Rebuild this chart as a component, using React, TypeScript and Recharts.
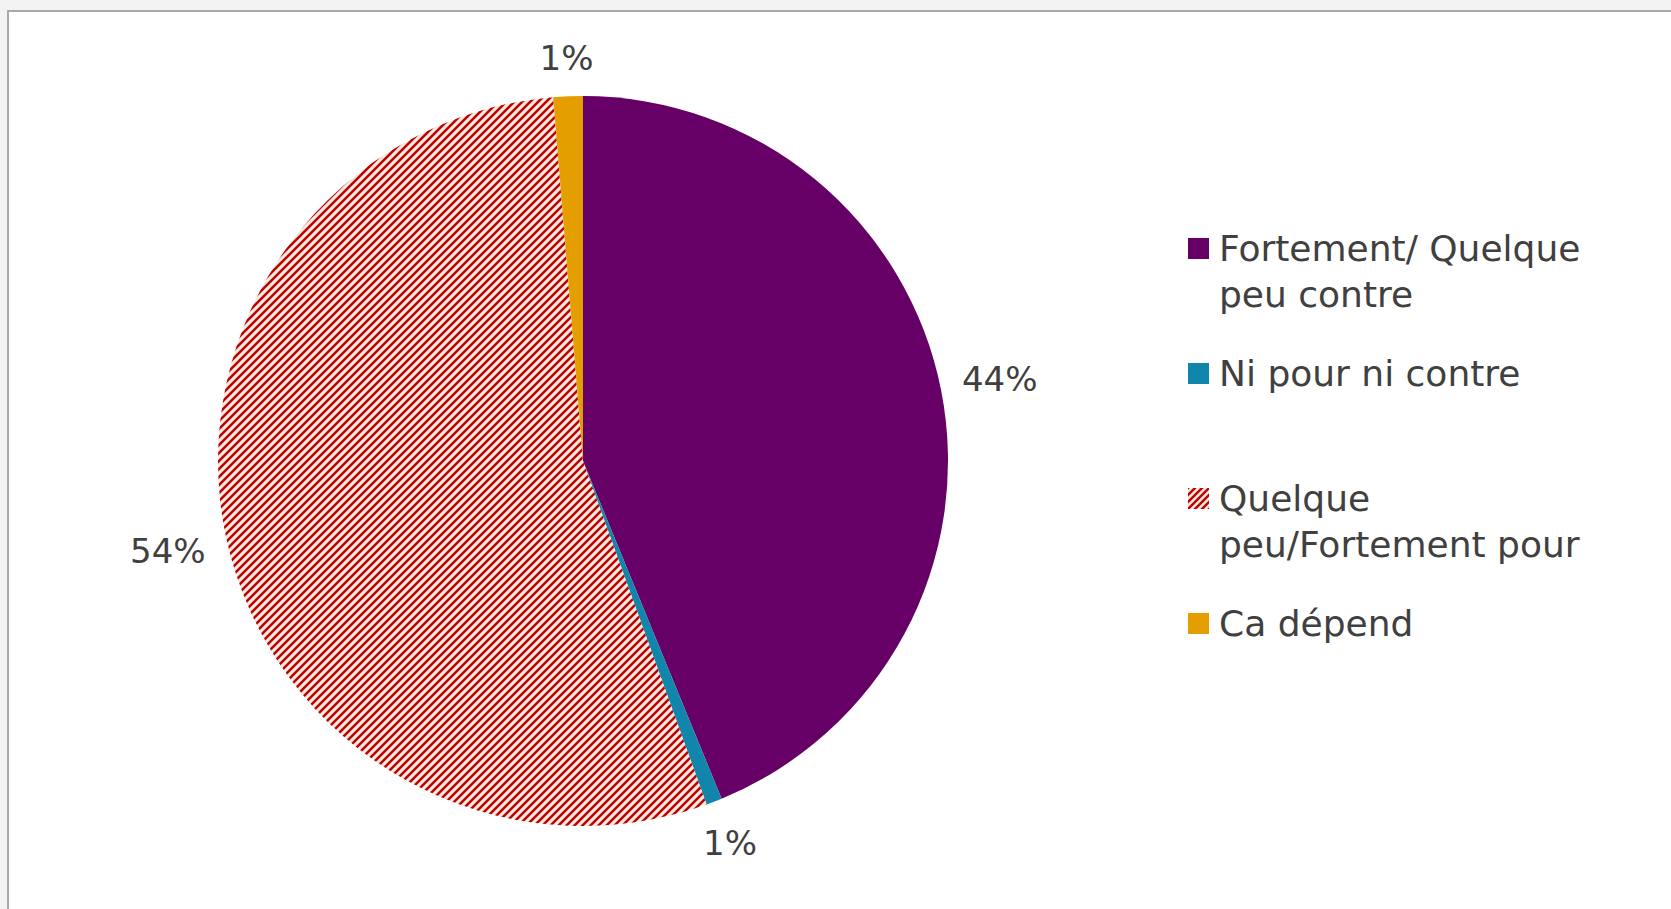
import React from "react";
import { PieChart, Pie, Cell } from "recharts";

const categories = [
  "Fortement/ Quelque peu contre",
  "Ni pour ni contre",
  "Quelque peu/Fortement pour",
  "Ca dépend",
];
const values = [43.8, 0.7, 54.2, 1.3];
const legendLines = [
  ["Fortement/ Quelque", "peu contre"],
  ["Ni pour ni contre"],
  ["Quelque", "peu/Fortement pour"],
  ["Ca dépend"],
];
const fills = ["#660066", "#1185ab", "url(#hatchRed)", "#e59e00"];
const legendSwatch = ["#660066", "#1185ab", "url(#hatchRedSmall)", "#e59e00"];

const data = categories.map((name, i) => ({ name, value: values[i] }));

const FONT = "'DejaVu Sans', 'Open Sans', sans-serif";
const TEXT = "#404040";

const renderLabel = (props: any) => {
  const { cx, cy, midAngle, outerRadius, value } = props;
  const rad = (-midAngle * Math.PI) / 180;
  const dx = Math.cos(rad);
  const dy = Math.sin(rad);
  const txt = `${Math.round(value)}%`;
  const w = txt.length * 22;
  const h = 24;
  const dist = outerRadius + 25 + Math.abs(dx) * (w / 2) + Math.abs(dy) * (h / 2);
  return (
    <text
      x={cx + dx * dist}
      y={cy + dy * dist}
      textAnchor="middle"
      dominantBaseline="central"
      fill={TEXT}
      fontFamily={FONT}
      fontSize={34}
    >
      {txt}
    </text>
  );
};

function LegendBlock() {
  return (
    <div style={{ position: "absolute", left: 1188, top: 226, width: 460, height: 520 }}>
      <svg width={0} height={0} style={{ position: "absolute" }}>
        <defs>
          <pattern id="hatchRedSmall" patternUnits="userSpaceOnUse" width={7} height={7}>
            <rect width={7} height={7} fill="#efebe0" />
            <path d="M-2,2 L2,-2 M0,7 L7,0 M5,9 L9,5" stroke="#c00000" strokeWidth={2.4} />
          </pattern>
        </defs>
      </svg>
      {categories.map((c, i) => (
        <div key={c} style={{ position: "absolute", left: 0, top: i * 125, width: 460 }}>
          <svg width={21} height={21} style={{ position: "absolute", left: 0, top: 12 }}>
            <rect width={21} height={21} fill={legendSwatch[i]} />
          </svg>
          <div
            style={{
              position: "absolute",
              left: 31,
              top: 0,
              fontFamily: FONT,
              fontSize: 36,
              lineHeight: "46px",
              color: TEXT,
              whiteSpace: "nowrap",
            }}
          >
            {legendLines[i].map((l, j) => (
              <div key={j}>{l}</div>
            ))}
          </div>
        </div>
      ))}
    </div>
  );
}

export default function App() {
  return (
    <div
      style={{
        position: "fixed",
        left: 0,
        top: 0,
        width: 1671,
        height: 909,
        background: "#f3f3f3",
        overflow: "hidden",
      }}
    >
      <div
        style={{
          position: "absolute",
          left: 7,
          top: 10,
          width: 1700,
          height: 940,
          background: "#ffffff",
          borderLeft: "2px solid #a8a8a8",
          borderTop: "2px solid #a8a8a8",
        }}
      />
      <svg width={0} height={0} style={{ position: "absolute" }}>
        <defs>
          <pattern id="hatchRed" patternUnits="userSpaceOnUse" width={8} height={8}>
            <rect width={8} height={8} fill="#efebe0" />
            <path d="M-2,2 L2,-2 M0,8 L8,0 M6,10 L10,6" stroke="#c00000" strokeWidth={2.5} />
          </pattern>
        </defs>
      </svg>
      <div style={{ position: "absolute", left: 0, top: 0 }}>
        <PieChart width={1671} height={909} margin={{ top: 0, right: 0, bottom: 0, left: 0 }}>
          <Pie
            data={data}
            dataKey="value"
            nameKey="name"
            cx={583}
            cy={461}
            outerRadius={365}
            startAngle={90}
            endAngle={-270}
            stroke="none"
            isAnimationActive={false}
            label={renderLabel}
            labelLine={false}
          >
            {data.map((d, i) => (
              <Cell key={d.name} fill={fills[i]} />
            ))}
          </Pie>
        </PieChart>
      </div>
      <LegendBlock />
    </div>
  );
}
